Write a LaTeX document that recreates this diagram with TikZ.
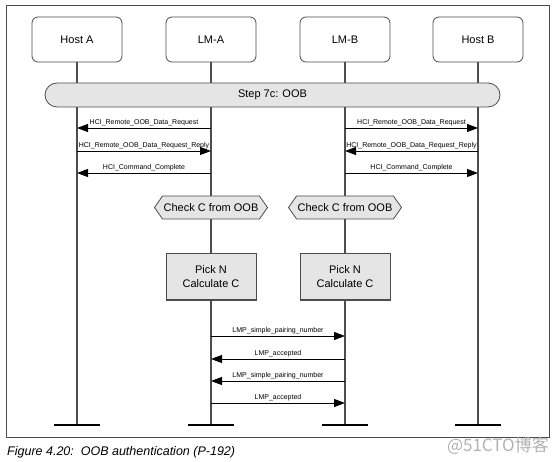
\documentclass[tikz,border=0pt]{standalone}
\usepackage{fontspec}
\setmainfont{Liberation Sans}
\newfontfamily\cjk{Noto Sans CJK SC}
\usetikzlibrary{arrows.meta,shapes.symbols}
\definecolor{boxgray}{gray}{0.9}
\definecolor{linegray}{gray}{0.3}
\tikzset{
  head/.style={draw=linegray,line width=0.8pt,rounded corners=6pt,minimum width=90pt,minimum height=45pt,fill=white,font=\fontsize{11}{13}\selectfont},
  life/.style={draw=linegray,line width=1.2pt},
  stepbar/.style={draw=linegray,line width=0.8pt,fill=boxgray,rounded corners=12pt,minimum width=455pt,minimum height=24pt,font=\fontsize{11}{13}\selectfont},
  check/.style={draw=linegray,line width=0.8pt,fill=boxgray,signal,signal to=west and east,signal pointer angle=110,minimum width=113pt,minimum height=23pt,inner sep=1pt,font=\fontsize{11}{13}\selectfont},
  calcbox/.style={draw=linegray,line width=1pt,fill=boxgray,minimum width=90pt,minimum height=46pt,align=center,font=\fontsize{11}{14}\selectfont},
  msg/.style={-{Triangle[length=11pt,width=8pt]},line width=0.9pt},
  lbl/.style={above,inner sep=1.5pt,font=\fontsize{7}{8}\selectfont}
}
\begin{document}
\begin{tikzpicture}[x=1pt,y=-1pt]
  \useasboundingbox(0,0)rectangle(554,462);
  \draw[linegray,line width=0.8pt](6,5)rectangle(549,437);
  \foreach \N/\T/\X in{hostA/Host A/77, lmA/LM-A/211, lmB/LM-B/345, hostB/Host B/478}{
    \node[head](\N)at(\X,39.5){\T};
    \coordinate(\N end)at(\X,425);
    \draw[life](\N)--(\N end);
    \draw[line width=2pt]([xshift=-23pt]\N end)--([xshift=23pt]\N end);
  }
  \node[stepbar](step)at(272.5,95){Step 7c: OOB};
  \node[check](checkA)at(211,207.5){Check C from OOB};
  \node[check](checkB)at(345,207.5){Check C from OOB};
  \node[calcbox](pickA)at(211,277){Pick N\\Calculate C};
  \node[calcbox](pickB)at(345,277){Pick N\\Calculate C};
  \foreach \Y/\F/\T/\L in{128/lmA/hostA/HCI\_Remote\_OOB\_Data\_Request, 151/hostA/lmA/HCI\_Remote\_OOB\_Data\_Request\_Reply, 173/lmA/hostA/HCI\_Command\_Complete,
    128/lmB/hostB/HCI\_Remote\_OOB\_Data\_Request, 151/hostB/lmB/HCI\_Remote\_OOB\_Data\_Request\_Reply, 173/lmB/hostB/HCI\_Command\_Complete,
    336/lmA/lmB/LMP\_simple\_pairing\_number, 359/lmB/lmA/LMP\_accepted, 381/lmB/lmA/LMP\_simple\_pairing\_number, 403/lmA/lmB/LMP\_accepted}{
    \draw[msg](\F|-0,\Y)--node[lbl]{\L}(\T|-0,\Y);
  }
  \node[anchor=base west,inner sep=0pt,font=\fontsize{12.5}{14}\selectfont\itshape](caption)at(7,455){Figure 4.20:\ \ OOB authentication (P-192)};
  \node[anchor=east,inner sep=0pt,text=gray!60,font=\cjk\fontsize{17}{19}\selectfont](mark)at(549,446){@51CTO博客};
\end{tikzpicture}
\end{document}
